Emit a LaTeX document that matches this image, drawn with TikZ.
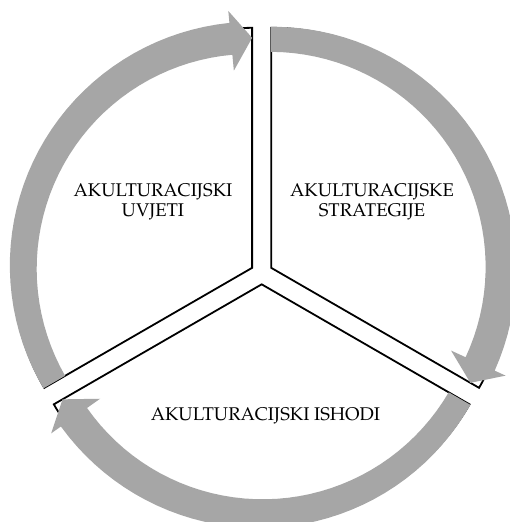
\documentclass[tikz,border=0pt]{standalone}
\usepackage[T1]{fontenc}
\renewcommand{\rmdefault}{ppl}
\usepackage{xcolor}
\usepackage{tikz}
\usetikzlibrary{positioning,calc}
\definecolor{arrowgray}{RGB}{166,166,166}
\tikzset{
  slice/.style={draw=black,line width=1.8pt,fill=white,line join=miter},
  cyclearrow/.style={fill=arrowgray,draw=none},
  slicetext/.style={align=center,inner sep=0pt,
            font=\fontsize{18.4pt}{20pt}\selectfont},
}

\begin{document}
\begin{tikzpicture}[x=1pt,y=1pt]
  \useasboundingbox (-261.67,-248.67) rectangle (248.33,273.33);
  % exploded centres of the three slices
  \coordinate (ulc) at (150:11);
  \coordinate (urc) at (30:11);
  \coordinate (btc) at (-90:11);
  % slices
  \draw[slice] (ulc) -- ++(210:240) arc[start angle=210,end angle=90,radius=240] -- cycle;
  \draw[slice] (urc) -- ++(90:240) arc[start angle=90,end angle=-30,radius=240] -- cycle;
  \draw[slice] (btc) -- ++(-30:240) arc[start angle=-30,end angle=-150,radius=240] -- cycle;
  % curved arrows round the slices (tail at 0, head pointing to -120)
  \fill[cyclearrow,shift={(ulc)},rotate=210]
    plot[domain=0:-114.7,samples=40] (\x:{241-5*\x/114.7})
    -- (-114.7:258) -- (-120:230) -- (-114.7:198)
    -- plot[domain=-114.7:0,samples=40] (\x:{216+2*\x/114.7}) -- cycle;
  \fill[cyclearrow,shift={(urc)},rotate=90]
    plot[domain=0:-114.7,samples=40] (\x:{241-5*\x/114.7})
    -- (-114.7:258) -- (-120:230) -- (-114.7:198)
    -- plot[domain=-114.7:0,samples=40] (\x:{216+2*\x/114.7}) -- cycle;
  \fill[cyclearrow,shift={(btc)},rotate=-30]
    plot[domain=0:-114.7,samples=40] (\x:{241-5*\x/114.7})
    -- (-114.7:258) -- (-120:230) -- (-114.7:198)
    -- plot[domain=-114.7:0,samples=40] (\x:{216+2*\x/114.7}) -- cycle;
  % texts
  \node[slicetext] (uvjeti) at (-108.7,71.3) {AKULTURACIJSKI\\UVJETI};
  \node[slicetext] (strategije) at (110.3,71.3) {AKULTURACIJSKE\\STRATEGIJE};
  \node[slicetext,anchor=base] (ishodi) at (3.8,-146.7) {AKULTURACIJSKI ISHODI};
\end{tikzpicture}
\end{document}
